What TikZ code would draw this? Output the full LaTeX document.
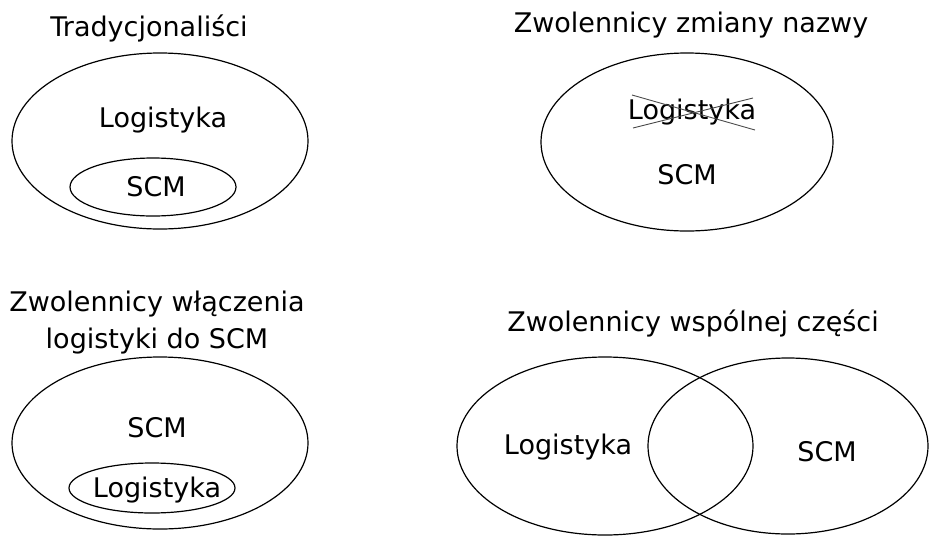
\documentclass[tikz,border=0pt]{standalone}
\usepackage{fontspec}
\setmainfont{DejaVu Sans}
\begin{document}
\begin{tikzpicture}[x=1pt,y=-1pt,
  lbl/.style={inner sep=0pt,font=\fontsize{27}{32}\selectfont},
  ttl/.style={inner sep=0pt,font=\fontsize{27}{37}\selectfont,align=center},
  ring/.style={draw=black,line width=1.2pt},
  cross/.style={draw=black!70,line width=0.9pt}]
\useasboundingbox (0,0) rectangle (929,536);
% top-left
\node[ttl] (t1) at (149,28) {Tradycjonaliści};
\draw[ring] (160,141) ellipse [x radius=148, y radius=88];
\node[lbl] (l1) at (163,120) {Logistyka};
\draw[ring] (153,187) ellipse [x radius=83, y radius=29];
\node[lbl] (s1) at (156,187) {SCM};
% top-right
\node[ttl] (t2) at (691,25) {Zwolennicy zmiany nazwy};
\draw[ring] (687,142) ellipse [x radius=146, y radius=89];
\node[lbl] (l2) at (692,112) {Logistyka};
\coordinate (c1) at (632,95);
\coordinate (c2) at (755,130);
\coordinate (c3) at (633,128);
\coordinate (c4) at (753,98);
\draw[cross] (c1) -- (c2);
\draw[cross] (c3) -- (c4);
\node[lbl] (s2) at (687,175) {SCM};
% bottom-left
\node[ttl] (t3) at (157,323) {Zwolennicy włączenia\\logistyki do SCM};
\draw[ring] (160,443) ellipse [x radius=148, y radius=86];
\node[lbl] (s3) at (157,428) {SCM};
\draw[ring] (152,488) ellipse [x radius=83, y radius=25];
\node[lbl] (l3) at (157,490) {Logistyka};
% bottom-right
\node[ttl] (t4) at (693,323) {Zwolennicy wspólnej części};
\draw[ring] (605,446) ellipse [x radius=148, y radius=89];
\draw[ring] (788,446) ellipse [x radius=140, y radius=88];
\node[lbl] (l4) at (568,447) {Logistyka};
\node[lbl] (s4) at (827,452) {SCM};
\end{tikzpicture}
\end{document}
